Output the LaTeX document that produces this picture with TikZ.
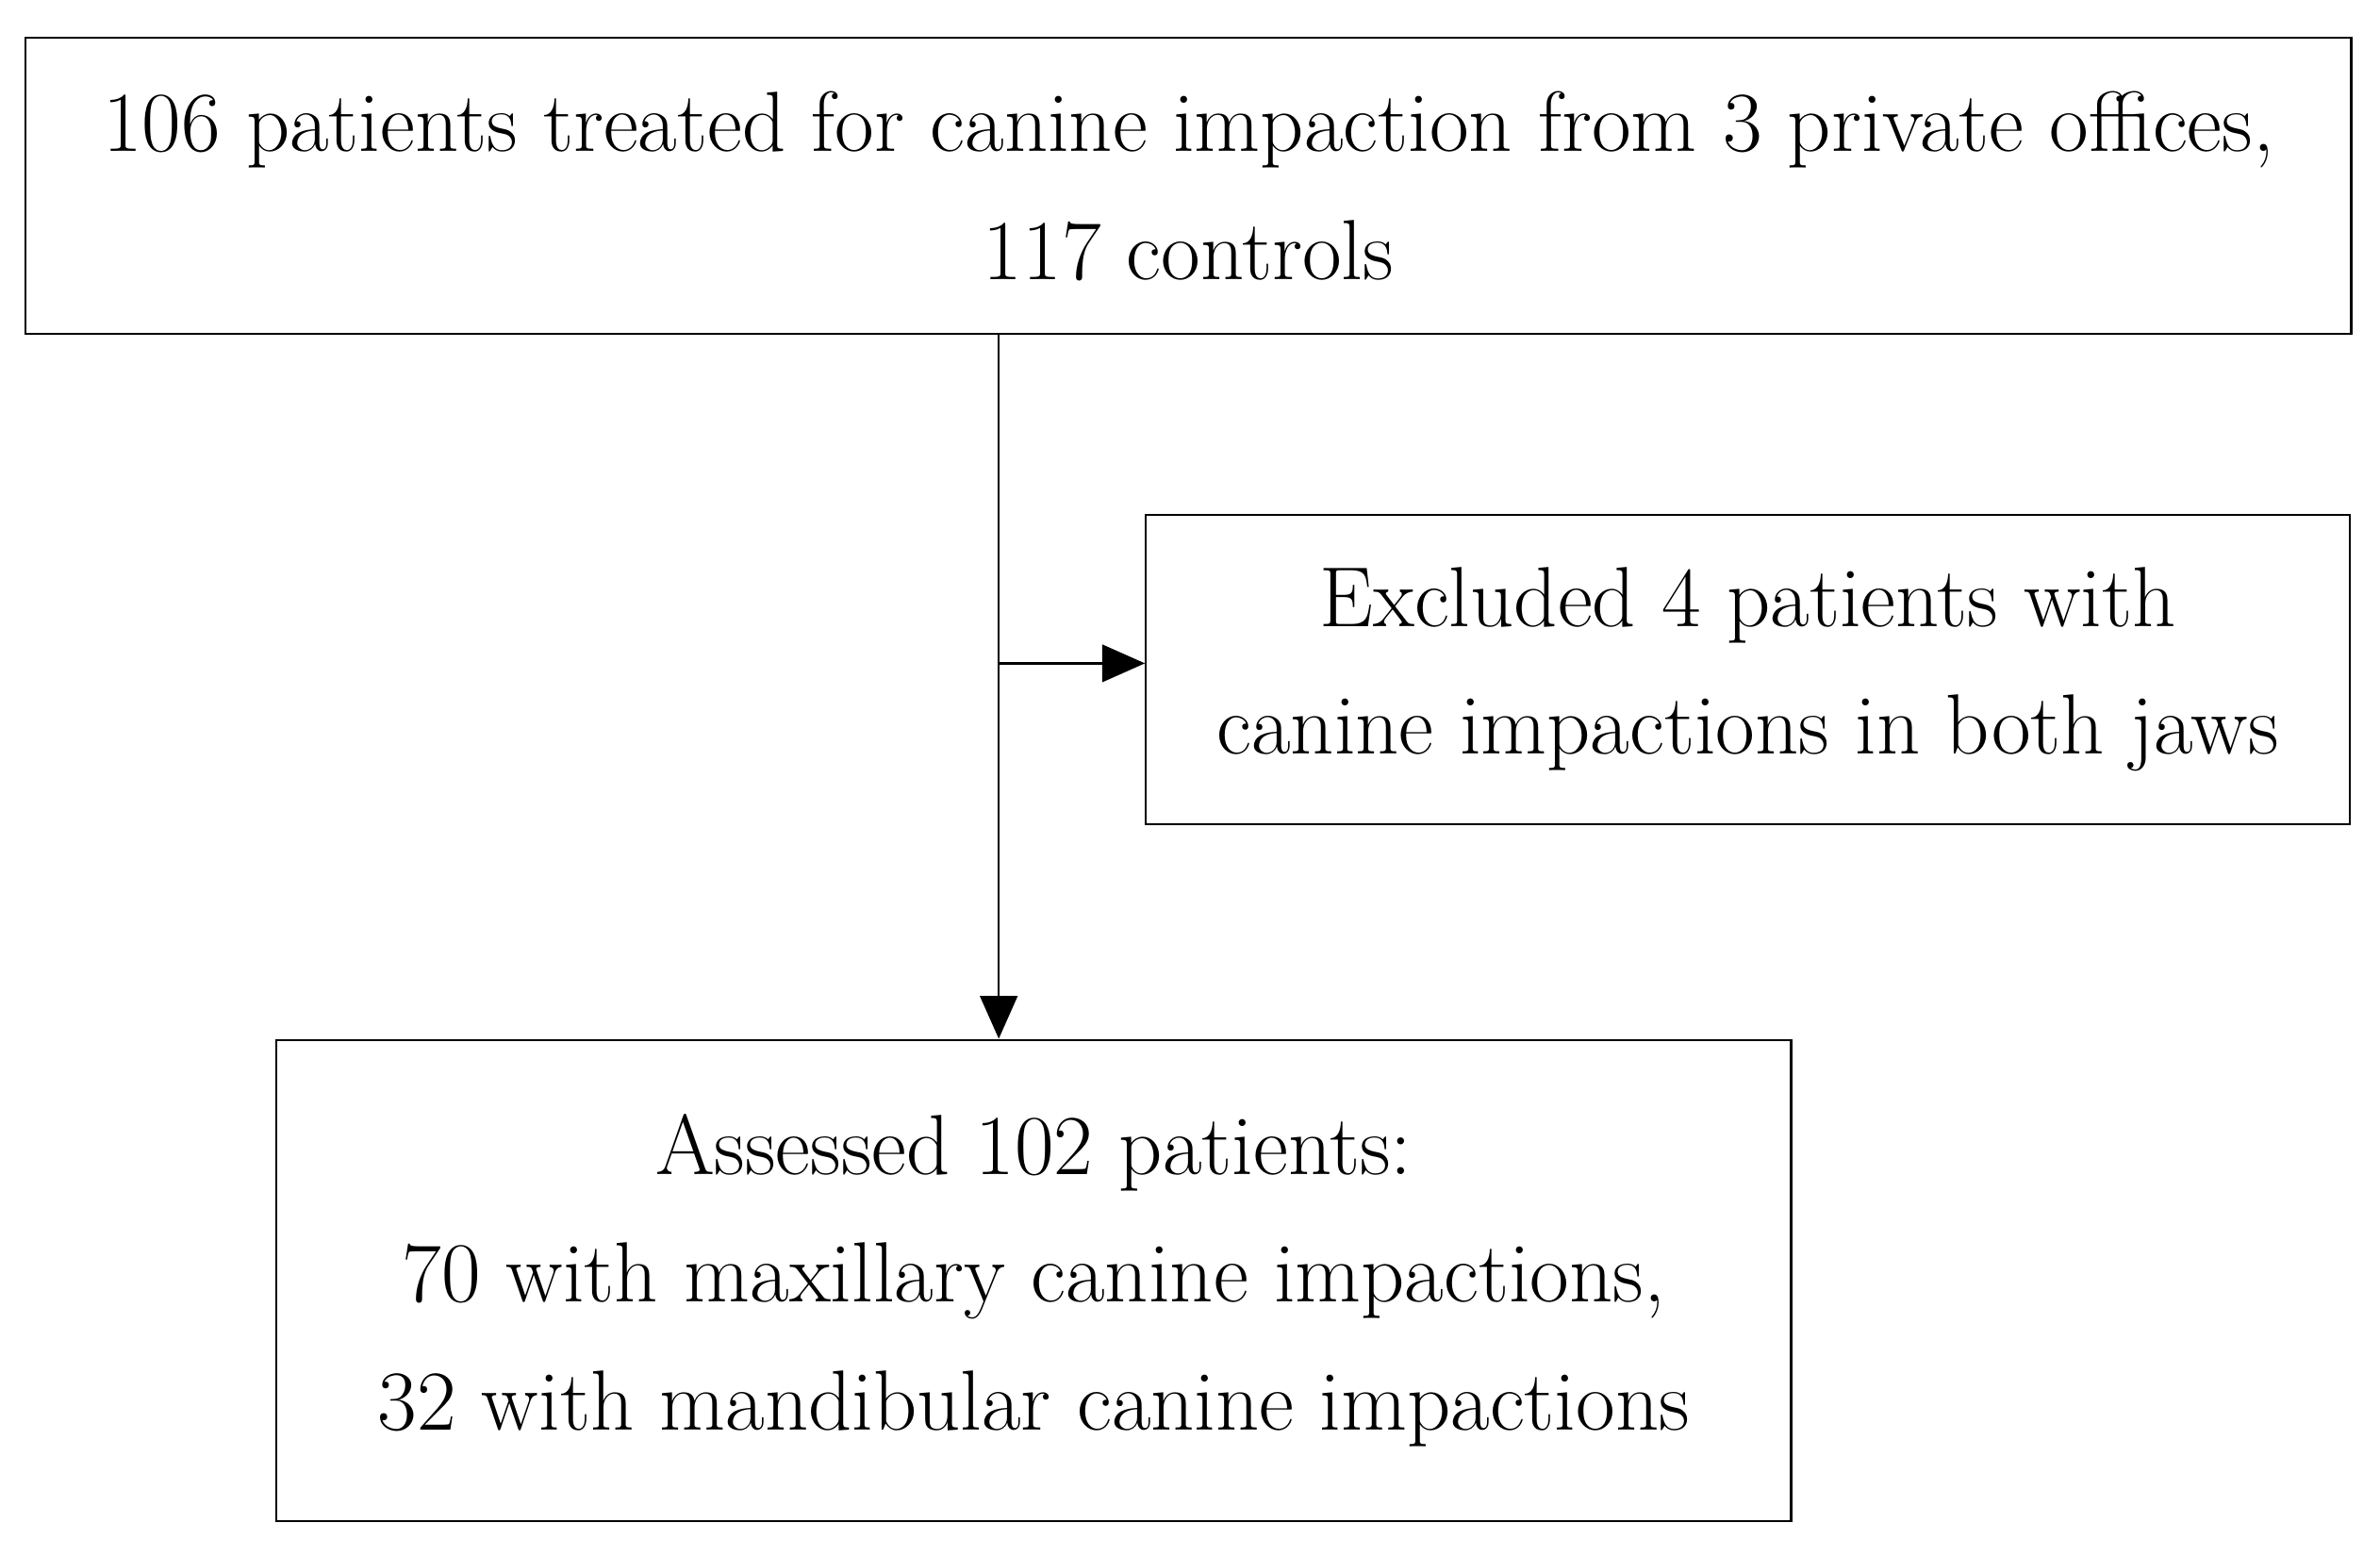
\documentclass[tikz,border=0pt]{standalone}
\usetikzlibrary{arrows.meta,positioning}
\begin{document}
\begin{tikzpicture}
    [box/.style={draw,thick,align=center,inner sep=0pt,font=\fontsize{32}{48}\selectfont},
     flow/.style={thick,-{Triangle[width=14pt,length=16pt]}}]
    \useasboundingbox (0,0) rectangle (31.36,20.5);
    \node[box,minimum width=30.64cm,minimum height=3.9cm](top) at (15.66,18.05)
        {106 patients treated for canine impaction from 3 private offices,\\117 controls};
    \node[box,minimum width=15.86cm,minimum height=4.08cm](excl) at (23.03,11.68)
        {Excluded 4 patients with\\canine impactions in both jaws};
    \node[box,minimum width=19.96cm,minimum height=6.34cm](assess) at (13.62,3.63)
        {Assessed 102 patients:\\70 with maxillary canine impactions,\\32 with mandibular canine impactions};
    \coordinate (split) at (13.16,11.76);
    \draw[flow] (top.south -| split) -- (assess.north -| split);
    \draw[flow] (split) -- (excl.west |- split);
\end{tikzpicture}
\end{document}
